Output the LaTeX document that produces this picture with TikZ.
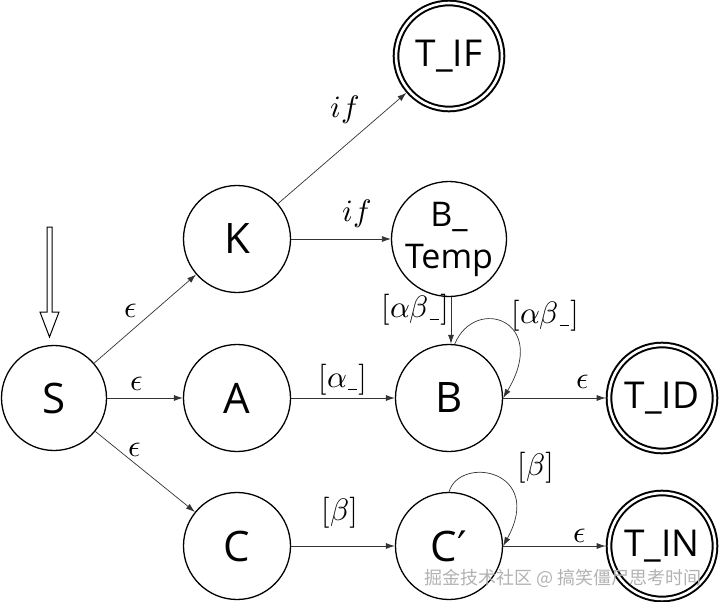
\documentclass[tikz,border=0pt]{standalone}
\usepackage{unicode-math}
\setmathfont{Latin Modern Math}
\newfontfamily\nodefont{Open Sans}
\newfontfamily\primefont{DejaVu Sans}
\newfontfamily\cjkfont{Noto Sans CJK SC}
\usetikzlibrary{arrows.meta}
\newcommand\ubar{\kern1pt\rule[-2pt]{9pt}{1.1pt}\kern1.5pt}
\tikzset{
 state/.style={circle,draw,line width=1.3pt,minimum size=107pt,inner sep=0pt,font=\nodefont\fontsize{42}{46}\selectfont},
 accept/.style={circle,draw,line width=2pt,double,double distance=2.6pt,minimum size=106pt,inner sep=0pt,outer sep=3.3pt,font=\nodefont\fontsize{37}{40}\selectfont},
 trans/.style={draw=black!80,line width=0.7pt,-{Latex[length=9pt,width=6pt]}},
 lbl/.style={font=\fontsize{31}{33}\selectfont,inner sep=0pt},
 initarrow/.style={draw,line width=1pt,fill=white},
 wmark/.style={font=\cjkfont\fontsize{18}{20}\selectfont,text=gray!60,inner sep=0pt},
}
\begin{document}
\begin{tikzpicture}[x=1pt,y=-1pt]
\useasboundingbox (0,0) rectangle (720,602);
% states
\node[state,minimum size=105pt] (S) at (54,398) {S};
\node[state] (K) at (237,239) {K};
\node[state] (A) at (237,398) {A};
\node[state] (C) at (237,546) {C};
\node[state,align=center,font=\nodefont\fontsize{34}{44}\selectfont] (BT) at (449,239) {B\_\\[-2pt]Temp};
\node[state] (B) at (449,398) {B};
\node[state] (Cp) at (449,546) {C{\primefont ′}};
\node[accept] (TIF) at (449,56) {T\_IF};
\node[accept] (TID) at (662,398) {T\_ID};
\node[accept] (TIN) at (662,546) {T\_IN};
% initial arrow
\coordinate (init) at (49.5,227);
\draw[initarrow] (init) ++(-2.5,0) -- ++(5,0) -- ++(0,85) -- ++(7,0) -- (49.5,337) -- (40,312) -- (47,312) -- cycle;
% transitions
\draw[trans] (S) -- (K);
\draw[trans] (S) -- (A);
\draw[trans] (S) -- (C);
\draw[trans] (K) -- (TIF);
\draw[trans] (K) -- (BT);
\draw[trans] (A) -- (B);
\draw[trans] (C) -- (Cp);
\draw[trans] ([xshift=2pt]BT.south) -- ([xshift=2pt]B.north);
\draw[trans] (B.84) .. controls (475,295) and (550,320) .. (B.east);
\draw[trans] (B) -- (TID);
\draw[trans] (Cp.90) .. controls (460,455) and (545,470) .. (Cp.east);
\draw[trans] (Cp) -- (TIN);
% labels
\node[lbl] (l1) at (131,311) {$\epsilon$};
\node[lbl] (l2) at (137,384) {$\epsilon$};
\node[lbl] (l3) at (135,450) {$\epsilon$};
\node[lbl] (l4) at (345,110) {$if$};
\node[lbl] (l5) at (357,214) {$if$};
\node[lbl] (l6) at (343,380) {$[\alpha\ubar]$};
\node[lbl] (l7) at (340,513) {$[\beta]$};
\node[lbl] (l8) at (415,310) {$[\alpha\beta\ubar]$};
\node[lbl] (l9) at (545,316) {$[\alpha\beta\ubar]$};
\node[lbl] (l10) at (583,382) {$\epsilon$};
\node[lbl] (l11) at (536,468) {$[\beta]$};
\node[lbl] (l12) at (580,536) {$\epsilon$};
% watermark
\node[wmark] (wm) at (563,578) {掘金技术社区 @ 搞笑僵尸思考时间};
\end{tikzpicture}
\end{document}
